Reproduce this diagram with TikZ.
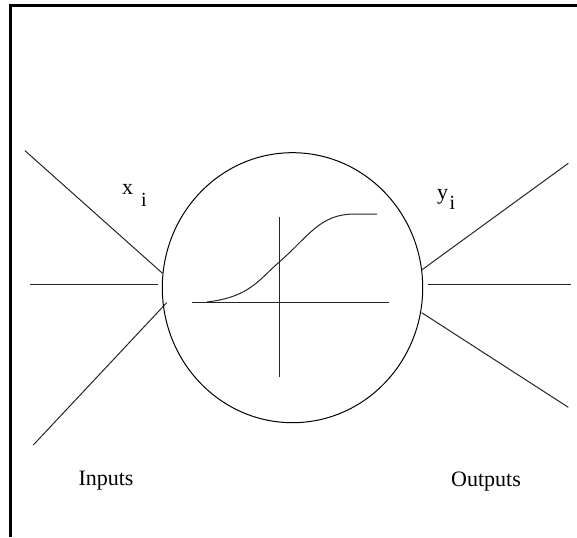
\documentclass[tikz,border=0pt]{standalone}
\usepackage{fontspec}
\setmainfont{Liberation Serif}
\usetikzlibrary{shapes.geometric}
\begin{document}
\begin{tikzpicture}[x=1pt,y=-1pt,
  wire/.style={line width=1pt,black!85},
  frameline/.style={line width=3pt,black},
  lbl/.style={font=\fontsize{22}{24}\selectfont,anchor=base,inner sep=0pt},
  sub/.style={font=\fontsize{20}{22}\selectfont,anchor=base,inner sep=0pt}]
\useasboundingbox[fill=white] (0,0) rectangle (577,537);
% frame
\draw[frameline] (10,537) -- (10,5.8) -- (577,5.8);
% neuron
\node[draw,ellipse,line width=1pt,minimum width=260.4pt,minimum height=270pt,inner sep=0pt] (neuron) at (292.5,287.7) {};
% input wires
\coordinate (inA) at (25,150.7);
\coordinate (inB) at (30,284.3);
\coordinate (inC) at (33.3,445);
\coordinate (nA) at (162.5,273.3);
\coordinate (nB) at (158.3,284.3);
\coordinate (nC) at (166.7,302.7);
\draw[wire] (inA) -- (nA);
\draw[wire] (inB) -- (nB);
\draw[wire] (inC) -- (nC);
% output wires
\coordinate (oA) at (568.3,163.3);
\coordinate (oB) at (570.7,284.3);
\coordinate (oC) at (568.3,407.3);
\coordinate (mA) at (421.7,270);
\coordinate (mB) at (428.3,284.3);
\coordinate (mC) at (421.7,312.7);
\draw[wire] (mA) -- (oA);
\draw[wire] (mB) -- (oB);
\draw[wire] (mC) -- (oC);
% axes
\coordinate (axL) at (191.5,302);
\coordinate (axR) at (389,302);
\coordinate (axT) at (279.3,216.7);
\coordinate (axB) at (279.3,377.3);
\draw[wire] (axL) -- (axR);
\draw[wire] (axT) -- (axB);
% sigmoid
\coordinate (s0) at (207,302);
\coordinate (s1) at (279.3,262);
\coordinate (s2) at (355,214);
\coordinate (s3) at (377,214);
\draw[wire] (s0) .. controls (250,297) and (259,279.4) .. (s1)
  .. controls (310,235) and (320,214) .. (s2) -- (s3);
% labels
\node[lbl] (xl) at (127.5,195) {x};
\node[sub] (xs) at (144,207) {i};
\node[lbl] (yl) at (442.5,200) {y};
\node[sub] (ys) at (452.5,209) {i};
\node[lbl] (inputs) at (106,485) {Inputs};
\node[lbl] (outputs) at (486,486) {Outputs};
\end{tikzpicture}
\end{document}
